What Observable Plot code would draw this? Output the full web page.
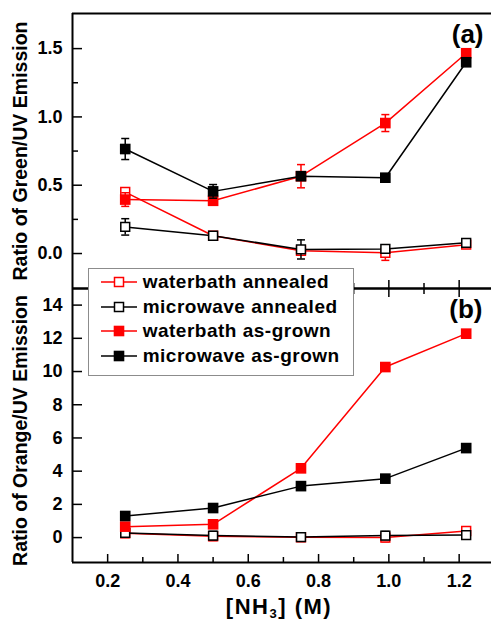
<!DOCTYPE html>
<html><head><meta charset="utf-8">
<script src="https://cdn.jsdelivr.net/npm/d3@7"></script>
<script src="https://cdn.jsdelivr.net/npm/@observablehq/plot@0.6"></script>
<style>
html,body{margin:0;padding:0;background:#fff;}
#chart{position:relative;width:491px;height:621px;overflow:hidden;font-family:"Liberation Sans",Arial,sans-serif;}
#chart svg.plotsvg{position:absolute;left:0;overflow:visible;background:transparent;}
</style></head><body><div id="chart"></div>
<script>
// ---- data ----
const conc = [0.25, 0.5, 0.75, 0.99, 1.22];
const seriesNames = ["waterbath annealed", "microwave annealed", "waterbath as-grown", "microwave as-grown"];
const seriesColors = ["#ff0000", "#000000", "#ff0000", "#000000"];
const seriesFilled = [false, false, true, true];

// panel (a): Green/UV ratio
const greenWaterbathAnnealed = [0.45, 0.13, 0.02, 0.005, 0.065];
const greenWaterbathAnnealedErr = [0.03, 0.02, 0.03, 0.055, 0.02];
const greenMicrowaveAnnealed = [0.195, 0.13, 0.03, 0.034, 0.078];
const greenMicrowaveAnnealedErr = [0.06, 0.02, 0.07, 0.02, 0.02];
const greenWaterbathGrown = [0.395, 0.386, 0.566, 0.955, 1.466];
const greenWaterbathGrownErr = [0.05, 0.03, 0.085, 0.062, 0.02];
const greenMicrowaveGrown = [0.765, 0.455, 0.566, 0.555, 1.40];
const greenMicrowaveGrownErr = [0.077, 0.05, 0.02, 0.02, 0.02];

// panel (b): Orange/UV ratio
const orangeWaterbathAnnealed = [0.26, 0.08, 0.02, 0.0, 0.40];
const orangeWaterbathAnnealedErr = [0.25, 0.25, 0.25, 0.25, 0.25];
const orangeMicrowaveAnnealed = [0.28, 0.12, 0.03, 0.12, 0.15];
const orangeMicrowaveAnnealedErr = [0.25, 0.25, 0.25, 0.25, 0.25];
const orangeWaterbathGrown = [0.66, 0.80, 4.17, 10.27, 12.28];
const orangeWaterbathGrownErr = [0.1, 0.1, 0.1, 0.1, 0.1];
const orangeMicrowaveGrown = [1.30, 1.78, 3.10, 3.55, 5.39];
const orangeMicrowaveGrownErr = [0.1, 0.1, 0.1, 0.1, 0.1];

const xMajorTicks = [0.2, 0.4, 0.6, 0.8, 1.0, 1.2];
const xMinorTicks = [0.3, 0.5, 0.7, 0.9, 1.1, 1.3];
const greenMajorTicks = [0.0, 0.5, 1.0, 1.5];
const greenMinorTicks = [0.25, 0.75, 1.25];
const orangeTicks = [0, 2, 4, 6, 8, 10, 12, 14];

// ---- build rows ----
function buildRows(values, errs) {
  const rows = [];
  seriesNames.forEach((name, i) => {
    conc.forEach((x, j) => rows.push({series: name, idx: i, x, y: values[i][j], err: errs[i][j]}));
  });
  return rows;
}
const greenRows = buildRows(
  [greenWaterbathAnnealed, greenMicrowaveAnnealed, greenWaterbathGrown, greenMicrowaveGrown],
  [greenWaterbathAnnealedErr, greenMicrowaveAnnealedErr, greenWaterbathGrownErr, greenMicrowaveGrownErr]);
const orangeRows = buildRows(
  [orangeWaterbathAnnealed, orangeMicrowaveAnnealed, orangeWaterbathGrown, orangeMicrowaveGrown],
  [orangeWaterbathAnnealedErr, orangeMicrowaveAnnealedErr, orangeWaterbathGrownErr, orangeMicrowaveGrownErr]);

const font = "Liberation Sans, Arial, sans-serif";
const capSymbol = {draw(ctx) { ctx.moveTo(-4, 0); ctx.lineTo(4, 0); }};

function seriesMarks(rows) {
  const marks = [];
  seriesNames.forEach((name, i) => {
    const d = rows.filter(r => r.series === name);
    const c = seriesColors[i];
    marks.push(Plot.line(d, {x: "x", y: "y", stroke: c, strokeWidth: 1.5}));
    marks.push(Plot.ruleX(d, {x: "x", y1: r => r.y - r.err, y2: r => r.y + r.err, stroke: c, strokeWidth: 1.5}));
    marks.push(Plot.dot(d, {x: "x", y: r => r.y - r.err, symbol: capSymbol, fill: "none", stroke: c, strokeWidth: 1.5}));
    marks.push(Plot.dot(d, {x: "x", y: r => r.y + r.err, symbol: capSymbol, fill: "none", stroke: c, strokeWidth: 1.5}));
    marks.push(seriesFilled[i]
      ? Plot.dot(d, {x: "x", y: "y", symbol: "square", r: 6, fill: c})
      : Plot.dot(d, {x: "x", y: "y", symbol: "square", r: 5, fill: "white", stroke: c, strokeWidth: 1.5}));
  });
  return marks;
}

const xDomain = [0.1, 1.292];
const greenDomain = [-0.256, 1.757];
const orangeDomain = [-1.5, 15];

const topPlot = Plot.plot({
  width: 491, height: 288,
  marginTop: 13, marginBottom: 0, marginLeft: 72, marginRight: 0,
  style: {fontFamily: font, overflow: "visible", background: "transparent"},
  x: {domain: xDomain},
  y: {domain: greenDomain},
  marks: [
    ...seriesMarks(greenRows),
    Plot.ruleY([greenDomain[1]], {strokeWidth: 2}),
    Plot.ruleY([greenDomain[0]], {strokeWidth: 2}),
    Plot.ruleX([xDomain[0]], {strokeWidth: 2}),
    Plot.axisY({ticks: greenMajorTicks, tickSize: -10, fill: "none", label: null, strokeWidth: 1.5}),
    Plot.axisY({ticks: greenMinorTicks, tickSize: -6, fill: "none", label: null, strokeWidth: 1.5}),
    Plot.axisY({ticks: greenMajorTicks, tickSize: 0, tickPadding: 10, tickFormat: d3.format(".1f"), fontSize: 18, fontWeight: "bold", label: null}),
    Plot.axisX({anchor: "bottom", ticks: xMajorTicks, tickSize: -8, fill: "none", label: null, strokeWidth: 1.5}),
    Plot.axisX({anchor: "bottom", ticks: xMinorTicks, tickSize: -5, fill: "none", label: null, strokeWidth: 1.5}),
    Plot.text(["Ratio of Green/UV Emission"], {frameAnchor: "left", dx: -52, rotate: -90, textAnchor: "middle", lineAnchor: "middle", fontSize: 19.5, fontWeight: "bold"}),
    Plot.text(["(a)"], {frameAnchor: "top-right", dx: -8, dy: 11, textAnchor: "end", lineAnchor: "top", fontSize: 26, fontWeight: "bold"})
  ]
});

const bottomPlot = Plot.plot({
  width: 491, height: 333,
  marginTop: 0, marginBottom: 59, marginLeft: 72, marginRight: 0,
  style: {fontFamily: font, overflow: "visible", background: "transparent"},
  x: {domain: xDomain},
  y: {domain: orangeDomain},
  marks: [
    ...seriesMarks(orangeRows),
    Plot.ruleY([orangeDomain[1]], {strokeWidth: 2}),
    Plot.ruleY([orangeDomain[0]], {strokeWidth: 2}),
    Plot.ruleX([xDomain[0]], {strokeWidth: 2}),
    Plot.axisY({ticks: orangeTicks, tickSize: -10, fill: "none", label: null, strokeWidth: 1.5}),
    Plot.axisY({ticks: orangeTicks, tickSize: 0, tickPadding: 10, tickFormat: d3.format("d"), fontSize: 18, fontWeight: "bold", label: null}),
    Plot.axisX({anchor: "top", ticks: xMajorTicks, tickSize: -8, fill: "none", label: null, strokeWidth: 1.5}),
    Plot.axisX({anchor: "top", ticks: xMinorTicks, tickSize: -5, fill: "none", label: null, strokeWidth: 1.5}),
    Plot.axisX({anchor: "bottom", ticks: xMajorTicks, tickSize: -8, fill: "none", label: null, strokeWidth: 1.5}),
    Plot.axisX({anchor: "bottom", ticks: xMinorTicks, tickSize: -5, fill: "none", label: null, strokeWidth: 1.5}),
    Plot.axisX({anchor: "bottom", ticks: xMajorTicks, tickSize: 0, tickPadding: 12, tickFormat: d3.format(".1f"), fontSize: 18, fontWeight: "bold", label: null}),
    Plot.text(["Ratio of Orange/UV Emission"], {frameAnchor: "left", dx: -52, dy: 5, rotate: -90, textAnchor: "middle", lineAnchor: "middle", fontSize: 19.5, fontWeight: "bold"}),
    Plot.text(["(b)"], {frameAnchor: "top-right", dx: -9, dy: 11, textAnchor: "end", lineAnchor: "top", fontSize: 26, fontWeight: "bold"})
  ]
});

const chart = document.getElementById("chart");
topPlot.classList.add("plotsvg");
bottomPlot.classList.add("plotsvg");
topPlot.style.top = "0px";
bottomPlot.style.top = "288px";
chart.appendChild(topPlot);
chart.appendChild(bottomPlot);

// x-axis title with subscript
const xl = d3.select(bottomPlot).append("text")
  .attr("x", 279).attr("y", 326)
  .attr("text-anchor", "middle")
  .attr("font-size", 22).attr("font-weight", "bold")
  .attr("letter-spacing", "1.5px").attr("fill", "black");
xl.append("tspan").text("[NH");
xl.append("tspan").attr("font-size", 13).attr("dy", 4).text("3");
xl.append("tspan").attr("dy", -4).text("] (M)");

// legend
const legend = d3.select(chart).append("div")
  .style("position", "absolute").style("left", "88px").style("top", "268px")
  .style("width", "266px").style("height", "108px").style("box-sizing", "border-box")
  .style("border", "1px solid #8c8c8c").style("background", "white").style("z-index", 5);
seriesNames.forEach((name, i) => {
  const cy = 13.3 + i * 24.5;
  const sw = legend.append("svg").attr("width", 40).attr("height", 24)
    .style("position", "absolute").style("left", "10px").style("top", (cy - 12) + "px");
  sw.append("line").attr("x1", 2).attr("x2", 38).attr("y1", 12).attr("y2", 12)
    .attr("stroke", seriesColors[i]).attr("stroke-width", 1.5);
  if (seriesFilled[i]) {
    sw.append("rect").attr("x", 14.7).attr("y", 6.7).attr("width", 10.6).attr("height", 10.6).attr("fill", seriesColors[i]);
  } else {
    sw.append("rect").attr("x", 15.5).attr("y", 7.5).attr("width", 9).attr("height", 9)
      .attr("fill", "white").attr("stroke", seriesColors[i]).attr("stroke-width", 1.5);
  }
  legend.append("div").text(name)
    .style("position", "absolute").style("left", "53.7px").style("top", (cy - 12) + "px")
    .style("height", "24px").style("line-height", "24px").style("white-space", "nowrap")
    .style("font-size", "19px").style("font-weight", "bold").style("letter-spacing", "0.5px")
    .style("font-family", font).style("color", "black");
});
</script>
</body></html>
